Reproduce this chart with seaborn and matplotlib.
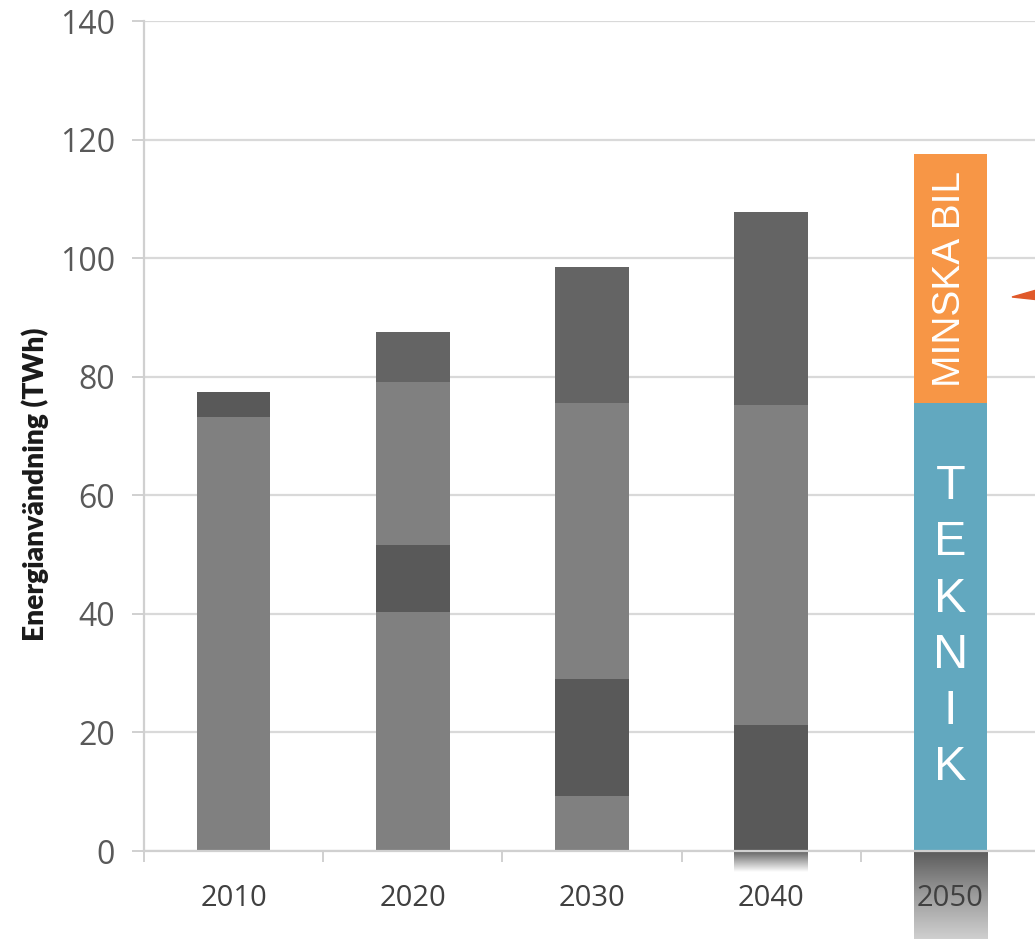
import numpy as np
import pandas as pd
import matplotlib
matplotlib.use("Agg")
import matplotlib.pyplot as plt
import seaborn as sns
from matplotlib.patches import Polygon

# ---------------- data ----------------
years = ["2010", "2020", "2030", "2040", "2050"]
# stacked segments, bottom to top (TWh)
seg1 = [73.2, 40.3, 9.3, 21.3, 75.5]
seg2 = [4.2, 11.3, 19.7, 53.9, 42.1]
seg3 = [0.0, 27.5, 46.6, 32.6, 0.0]
seg4 = [0.0, 8.4, 22.9, 0.0, 0.0]
segments = [seg1, seg2, seg3, seg4]

LIGHT, DARK, MID = "#808080", "#595959", "#646464"
TEAL, ORANGE = "#62A8BF", "#F79646"
seg_colors = [
    [LIGHT, LIGHT, LIGHT, DARK, TEAL],
    [DARK, DARK, DARK, LIGHT, ORANGE],
    [LIGHT, LIGHT, LIGHT, MID, ORANGE],
    [LIGHT, MID, MID, MID, ORANGE],
]
y_ticks = [0, 20, 40, 60, 80, 100, 120, 140]
y_label = "Energianvändning (TWh)"
label_top = "MINSKA BIL"
label_bottom = "TEKNIK"

# ---------------- style ----------------
sns.set_style("white")
plt.rcParams["font.family"] = ["Open Sans", "DejaVu Sans"]

W, H = 1035, 939
fig = plt.figure(figsize=(W / 100, H / 100), dpi=100)
ax = fig.add_axes([144 / W, 1 - 851 / H, (1040 - 144) / W, (851 - 21) / H])
ax.set_axisbelow(True)

cum = np.cumsum(np.array(segments), axis=0)
# draw cumulative tops from the highest layer down so each band shows its colour
for k in range(len(segments) - 1, -1, -1):
    df = pd.DataFrame({"year": years, "value": cum[k]})
    sns.barplot(data=df, x="year", y="value", hue="year",
                palette=dict(zip(years, seg_colors[k])), width=0.41,
                linewidth=0, edgecolor="none", legend=False, ax=ax,
                saturation=1)

# fading reflections below the axis
grad = np.linspace(0, 1, 256).reshape(-1, 1)
cm1 = matplotlib.colors.LinearSegmentedColormap.from_list("g1", ["#5a5a5a", "#ffffff"])
cm2 = matplotlib.colors.LinearSegmentedColormap.from_list("g2", ["#5a5a5a", "#9c9c9c", "#d2d2d2"])
ax.imshow(grad, cmap=cm1, extent=[3 - 0.205, 3 + 0.205, -3.6, 0], aspect="auto",
          clip_on=False, zorder=0.4, origin="upper")
ax.imshow(grad, cmap=cm2, extent=[4 - 0.205, 4 + 0.205, -15.2, 0], aspect="auto",
          clip_on=False, zorder=0.4, origin="upper")

ax.set_xlim(-0.5, 4.5)
ax.set_ylim(0, 140)
ax.set_yticks(y_ticks)
ax.set_yticklabels([str(v) for v in y_ticks])
ax.yaxis.grid(True, color="#d9d9d9", linewidth=1.6)
ax.xaxis.grid(False)

for s in ["top", "right"]:
    ax.spines[s].set_visible(False)
for s in ["left", "bottom"]:
    ax.spines[s].set_color("#d0d0d0")
    ax.spines[s].set_linewidth(1.6)

ax.tick_params(axis="y", left=True, length=9, width=1.4, color="#d0d0d0",
               labelsize=23, labelcolor="#595959", pad=12)
ax.tick_params(axis="x", which="major", bottom=False, length=0,
               labelsize=21, labelcolor="#404040", pad=24)
ax.set_xticks(np.arange(-0.5, 5, 1.0), minor=True)
ax.tick_params(axis="x", which="minor", bottom=True, length=8, width=1.4, color="#d0d0d0")

ax.set_xlabel("")
ax.set_ylabel("")
# condensed-looking bold y label, sized to the reference length
ylab = fig.text(35 / W, 1 - 484 / H, y_label, rotation=90, ha="center", va="center",
                fontsize=20, fontweight="heavy", color="#1a1a1a",
                family=["Lato", "DejaVu Sans"])
fig.canvas.draw()
ext = ylab.get_window_extent(fig.canvas.get_renderer())
ylab.set_fontsize(20 * 313 / ext.height)

# labels in the 2050 bar
i50 = 4
teal_mid = seg1[i50] / 2
orange_mid = seg1[i50] + seg2[i50] / 2
ax.text(i50, orange_mid, label_top, rotation=90, ha="center", va="center",
        color="white", fontsize=28, family=["Liberation Sans", "DejaVu Sans"])
ax.text(i50, teal_mid, "\n".join(label_bottom), ha="center", va="center",
        color="white", fontsize=35, linespacing=1.32,
        family=["Liberation Sans", "DejaVu Sans"])

# red arrow head at right edge
tri = Polygon([[1012 / W, 1 - 297 / H], [1040 / W, 1 - 289 / H], [1040 / W, 1 - 300 / H]],
              closed=True, transform=fig.transFigure, color="#E0592A", clip_on=False)
fig.patches.append(tri)

fig.savefig("out.png", dpi=100)
